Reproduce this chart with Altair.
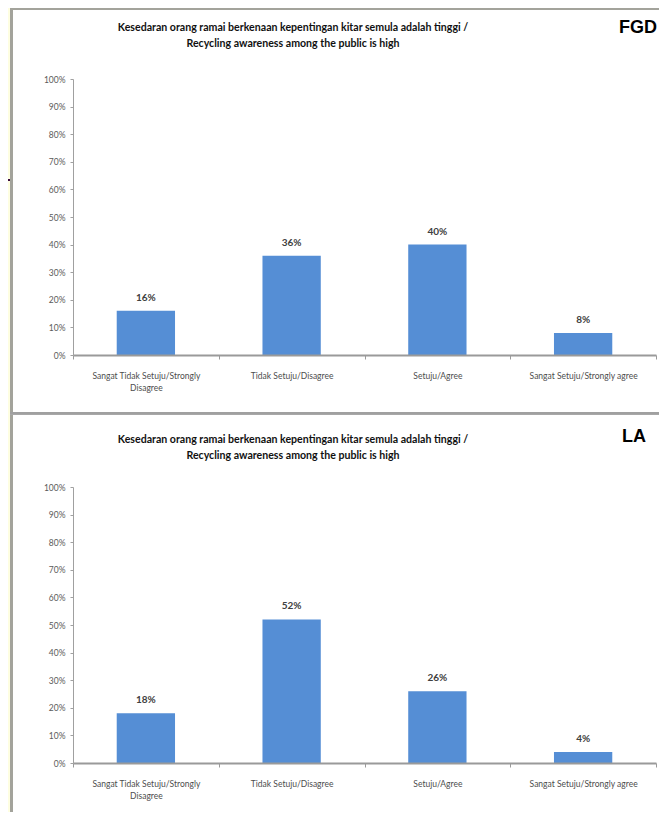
import altair as alt
import pandas as pd

categories = [
    "Sangat Tidak Setuju/Strongly Disagree",
    "Tidak Setuju/Disagree",
    "Setuju/Agree",
    "Sangat Setuju/Strongly agree",
]
fgd_values = [0.16, 0.36, 0.40, 0.08]
la_values = [0.18, 0.52, 0.26, 0.04]
y_ticks = [0.0, 0.1, 0.2, 0.3, 0.4, 0.5, 0.6, 0.7, 0.8, 0.9, 1.0]
title_line1 = "Kesedaran orang ramai berkenaan kepentingan kitar semula adalah tinggi /"
title_line2 = "Recycling awareness among the public is high"

PLOT_W, PLOT_H = 583, 276
LEFT, RIGHT = 65, 586
BAR_COLOR = "#558ED5"
YELLOW = "#FEFEE1"
BORDER = "#A3A39B"

label_expr = (
    "datum.value == 'Sangat Tidak Setuju/Strongly Disagree' ? "
    "['Sangat Tidak Setuju/Strongly', 'Disagree'] : datum.value"
)


def deco_rect(x1, x2, y1, y2, color):
    return alt.Chart(pd.DataFrame({"k": [0]})).mark_rect(color=color).encode(
        x=alt.value(x1), x2=alt.value(x2), y=alt.value(y1), y2=alt.value(y2)
    )


def deco_text(txt, x, y, size, font, align="center", color="#111111"):
    return alt.Chart(pd.DataFrame({"k": [0]})).mark_text(
        font=font, fontSize=size, fontWeight="bold", align=align,
        baseline="middle", color=color,
    ).encode(x=alt.value(x), y=alt.value(y), text=alt.value(txt))


def panel(values, tag, top, bottom, t1, t2, tag_x, tag_y, top_border):
    df = pd.DataFrame({"category": categories, "value": values})
    layers = [
        deco_rect(-LEFT, RIGHT, top, bottom, YELLOW),
        deco_rect(-63, RIGHT, top, bottom, "white"),
        deco_rect(-63, -60, top, bottom, BORDER),
    ]
    if top_border:
        layers.append(deco_rect(-63, RIGHT, top, top + 2, BORDER))
        layers.append(deco_rect(-LEFT, -63, 100, 102, "#3B0B3B"))
        layers.append(deco_rect(-63, RIGHT, bottom - 2, bottom, "#A0A0A0"))
    else:
        layers.append(deco_rect(-63, RIGHT, top, top + 1, "#A8A8A8"))

    x_enc = alt.X(
        "category:N", sort=categories, title=None,
        scale=alt.Scale(paddingInner=0, paddingOuter=0),
        axis=alt.Axis(
            labelAngle=0, tickBand="extent", tickSize=4, labelPadding=12,
            labelExpr=label_expr, labelFont="Lato", labelFontSize=8.5,
            labelColor="#4D4D4D", labelLineHeight=12, labelLimit=200,
            domainColor="#9A9A9A", domainWidth=2, tickColor="#9A9A9A",
            zindex=2,
        ),
    )
    y_enc = alt.Y(
        "value:Q", title=None,
        scale=alt.Scale(domain=[0, 1], nice=False),
        axis=alt.Axis(
            values=y_ticks, format=".0%", tickSize=3, labelPadding=5,
            labelFont="Lato", labelFontSize=8.5, labelColor="#5A5A5A",
            labelOverlap=False, domainColor="#A0A0A0", tickColor="#A0A0A0",
            grid=False, zindex=2,
        ),
    )
    bars = alt.Chart(df).mark_bar(
        color=BAR_COLOR, width=alt.RelativeBandSize(0.4)
    ).encode(x=x_enc, y=y_enc)
    labels = alt.Chart(df).mark_text(
        baseline="bottom", dy=-8, font="Lato", fontSize=10,
        fontWeight="bold", color="#404040",
    ).encode(
        x=x_enc,
        y=y_enc,
        text=alt.Text("value:Q", format=".0%"),
    )
    layers += [
        bars,
        labels,
        deco_text(title_line1, 220, t1, 10.6, "Lato"),
        deco_text(title_line2, 220, t2, 10.6, "Lato"),
        deco_text(tag, tag_x, tag_y, 18, "Liberation Sans", align="left", color="#000000"),
    ]
    return alt.layer(*layers).properties(width=PLOT_W, height=PLOT_H)


top = panel(fgd_values, "FGD", -71, 335, -51, -35, 546, -51, True)
bottom = panel(la_values, "LA", -73, 325, -47, -31, 549, -50, False)

chart = alt.vconcat(top, bottom, spacing=0).properties(
    padding={"left": 0, "top": 0, "right": 0, "bottom": 0}, background=YELLOW
).configure_view(stroke=None)

chart.save("out.html", embed_options={"renderer": "svg", "actions": False})
